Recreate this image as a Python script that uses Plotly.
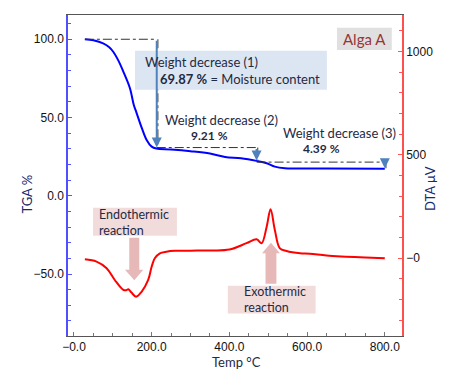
import plotly.graph_objects as go
from plotly.subplots import make_subplots

# ---- data ----
tga_temp = [28, 50, 75, 90, 101, 115, 127, 144, 154, 161, 175, 187, 200, 212, 250, 300, 350, 389, 430, 470, 496, 517, 543, 650, 800]
tga_vals = [100, 99.3, 97.4, 95, 92, 86, 79.3, 68.7, 58, 53, 43, 35.7, 31.4, 30.2, 29.6, 28.5, 27, 24.8, 24, 22.3, 20.8, 18.6, 17.6, 17.4, 17.2]

dta_temp = [28, 58, 84, 105, 127, 134, 140, 148, 160, 174, 191, 200, 208, 221, 238, 260, 300, 350, 400, 444, 470, 483, 496, 506, 517, 530, 547, 582, 607, 650, 700, 750, 800]
dta_vals = [-5, -16, -48, -105, -153, -155, -150, -166, -186, -162, -105, -40, 0, 24, 32, 36, 37, 38, 42, 73, 92, 73, 153, 237, 137, 48, 35, 24, 22, 13, 8, 4, 0]

x_tickvals = [0, 200, 400, 600, 800]
x_ticktext = ["\u22120.0", "200.0", "400.0", "600.0", "800.0"]
y1_tickvals = [-50, 0, 50, 100]
y1_ticktext = ["\u221250.0", "0.0", "50.0", "100.0"]
y2_tickvals = [0, 500, 1000]
y2_ticktext = ["\u22120", "500", "1000"]

# weight-decrease steps: (temperature, start level, end level)
step_temp = [213, 470, 800]
step_from = [100, 30.8, 21.5]
step_to = [30.8, 22.5, 17.6]
step_line_start = [28, 213, 470]

fig = make_subplots(specs=[[{"secondary_y": True}]])
fig.add_trace(go.Scatter(x=tga_temp, y=tga_vals, mode="lines", line=dict(color="#0000ff", width=2, shape="spline"), showlegend=False), secondary_y=False)
fig.add_trace(go.Scatter(x=dta_temp, y=dta_vals, mode="lines", line=dict(color="#ff0000", width=2, shape="spline"), showlegend=False), secondary_y=True)

shapes = []
annotations = []
# dash-dot guide lines
for t0, t1, lv in zip(step_line_start, step_temp, step_from):
    shapes.append(dict(type="line", xref="x", yref="y", x0=t0, x1=t1, y0=lv, y1=lv,
                       line=dict(color="#333333", width=1, dash="dashdot")))
for t, a, b in zip(step_temp, step_from, step_to):
    shapes.append(dict(type="line", xref="x", yref="y", x0=t + 3, x1=t + 3, y0=a, y1=b,
                       line=dict(color="#333333", width=1, dash="dashdot")))

# boxes
shapes.append(dict(type="rect", xref="x", yref="y", x0=157, x1=651, y0=67.7, y1=92.6, fillcolor="#dce6f2", line=dict(width=0), layer="above"))
shapes.append(dict(type="rect", xref="x", yref="y", x0=677, x1=818, y0=93.2, y1=107.3, fillcolor="#e0e0e0", line=dict(width=0), layer="above"))
shapes.append(dict(type="rect", xref="x", yref="y", x0=49, x1=265, y0=-25.6, y1=-7.7, fillcolor="#f2dcdb", line=dict(width=0), layer="above"))
shapes.append(dict(type="rect", xref="x", yref="y", x0=396, x1=622, y0=-75.2, y1=-57.5, fillcolor="#f2dcdb", line=dict(width=0), layer="above"))
# fat arrows
shapes.append(dict(type="path", xref="x", yref="y", layer="above",
                   path="M142.3,-26.8 L168.1,-26.8 L168.1,-47.3 L178.4,-47.3 L155.2,-54.0 L131.3,-47.3 L142.3,-47.3 Z",
                   fillcolor="#e6b9b8", line=dict(width=0)))
shapes.append(dict(type="path", xref="x", yref="y", layer="above",
                   path="M493,-56.2 L521,-56.2 L521,-36.7 L530,-36.7 L507,-30.0 L484,-36.7 L493,-36.7 Z",
                   fillcolor="#e6b9b8", line=dict(width=0)))

# step arrows
for t, a, b in zip(step_temp, step_from, step_to):
    annotations.append(dict(x=t, y=b, ax=t, ay=a, xref="x", yref="y", axref="x", ayref="y",
                            text="", showarrow=True, arrowhead=2, arrowsize=1, arrowwidth=2,
                            arrowcolor="#4f81bd"))

tf = "Lato"
tc = "#1f2a44"
def txt(x, y, s, size=13, color=tc, xanchor="left", xref="x", yref="y", angle=0):
    annotations.append(dict(x=x, y=y, xref=xref, yref=yref, text=s, showarrow=False,
                            xanchor=xanchor, yanchor="middle", textangle=angle, align="left",
                            font=dict(family=tf, size=size, color=color)))

txt(177, 85.6, "Weight decrease (1)")
txt(216, 74.7, "<b>69.87 %</b> = Moisture content")
txt(230, 48.3, "Weight decrease (2)")
txt(348, 38.3, "<b>9.21 %</b>", size=12, xanchor="center")
txt(532, 39.8, "Weight decrease (3)")
txt(637, 30.2, "<b>4.39 %</b>", size=12, xanchor="center")
txt(747, 100.3, "Alga A", size=15, color="#953735", xanchor="center")
txt(60, -17.0, "Endothermic<br>reaction", size=12.5)
txt(432, -66.5, "Exothermic<br>reaction", size=12.5)
txt(-0.1213, 0.442, "TGA %", size=13, color="#1a2a6c", xanchor="center", xref="paper", yref="paper", angle=-90)
txt(1.084, 0.458, "DTA \u03bcV", size=13, color="#1a2a6c", xanchor="center", xref="paper", yref="paper", angle=-90)
txt(0.503, -0.08, "Temp \u00b0C", size=13, color=tc, xanchor="center", xref="paper", yref="paper")

tickfont = dict(family="Liberation Sans", size=12, color="#111111")
fig.update_layout(
    width=443, height=367,
    margin=dict(l=60, r=49, t=7, b=39, autoexpand=False),
    paper_bgcolor="white", plot_bgcolor="white",
    shapes=shapes, annotations=annotations,
    showlegend=False,
)
fig.update_xaxes(domain=[0, 1], range=[-15.4, 844.3], tickvals=x_tickvals, ticktext=x_ticktext, ticks="inside", ticklen=4,
                 tickcolor="#777777", showline=True, linecolor="#555555", linewidth=1, mirror=True,
                 showgrid=False, zeroline=False, tickfont=tickfont, automargin=False,
                 minor=dict(dtick=50, ticks="inside", ticklen=3, tickcolor="#777777"))
fig.update_yaxes(domain=[0, 1], range=[-89.6, 115.5], tickvals=y1_tickvals, ticktext=y1_ticktext, ticks="inside", ticklen=4,
                 tickcolor="#5555ff", showline=True, linecolor="#5050ff", linewidth=1.5,
                 showgrid=False, zeroline=False, tickfont=tickfont, automargin=False,
                 minor=dict(tick0=0, dtick=10, ticks="inside", ticklen=3, tickcolor="#5555ff"),
                 secondary_y=False)
fig.update_yaxes(range=[-376, 1177], tickvals=y2_tickvals, ticktext=y2_ticktext, ticks="inside", ticklen=4,
                 tickcolor="#ff5555", showline=True, linecolor="#ff5050", linewidth=1.5,
                 showgrid=False, zeroline=False, tickfont=tickfont, automargin=False,
                 minor=dict(tick0=0, dtick=100, ticks="inside", ticklen=3, tickcolor="#ff5555"),
                 secondary_y=True)

fig.write_html("out.html")
